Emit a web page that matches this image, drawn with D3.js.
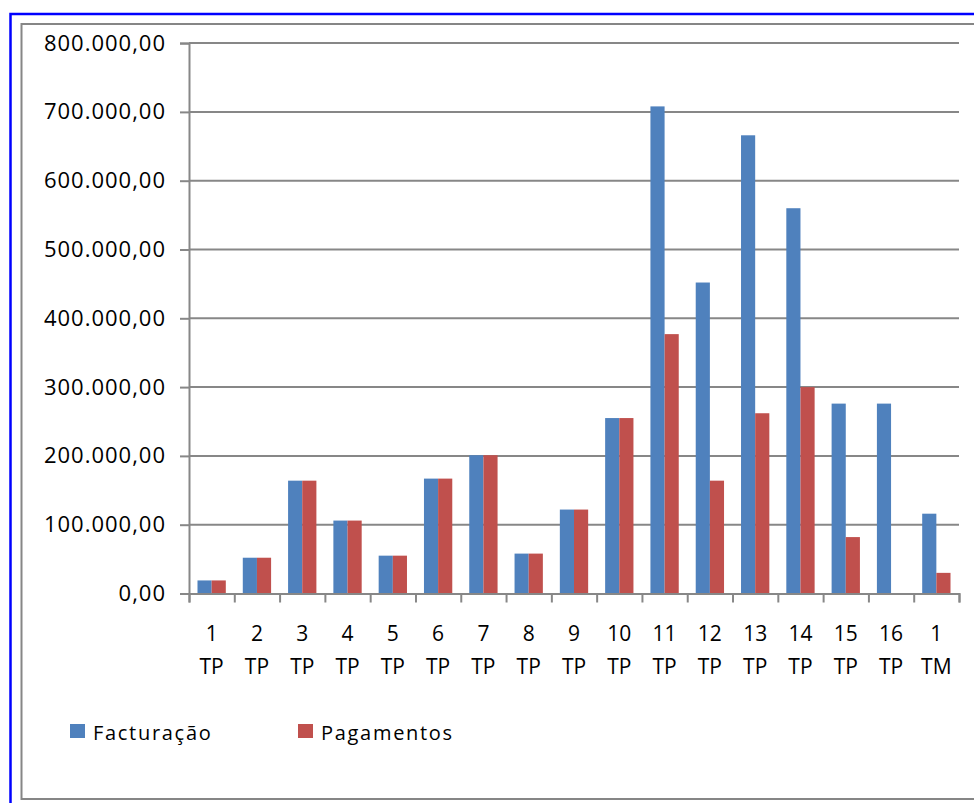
<!DOCTYPE html>
<html>
<head>
<meta charset="utf-8">
<script src="https://cdn.jsdelivr.net/npm/d3@7"></script>
<style>
  html, body { margin: 0; padding: 0; background: #fff; }
  svg { display: block; }
  text { font-family: "Open Sans", sans-serif; fill: #000; }
</style>
</head>
<body>
<svg id="chart" width="974" height="803"></svg>
<script>
// data
const catNums = ["1", "2", "3", "4", "5", "6", "7", "8", "9", "10", "11", "12", "13", "14", "15", "16", "1"];
const catTypes = ["TP", "TP", "TP", "TP", "TP", "TP", "TP", "TP", "TP", "TP", "TP", "TP", "TP", "TP", "TP", "TP", "TM"];
const facturacao = [19000, 52000, 164000, 106000, 55000, 167000, 201000, 58000, 122000, 255000, 708000, 452000, 666000, 560000, 276000, 276000, 116000];
const pagamentos = [19000, 52000, 164000, 106000, 55000, 167000, 201000, 58000, 122000, 255000, 377000, 164000, 262000, 300000, 82000, 0, 30000];
const seriesNames = ["Facturação", "Pagamentos"];
const seriesColors = ["#4F81BD", "#C0504D"];
const yTicks = [0, 100000, 200000, 300000, 400000, 500000, 600000, 700000, 800000];

const svg = d3.select("#chart");

// outer frames
svg.append("rect")
    .attr("x", 10.5).attr("y", 14).attr("width", 1000).attr("height", 820)
    .attr("fill", "none").attr("stroke", "#0000ff").attr("stroke-width", 2.5);
svg.append("rect")
    .attr("x", 21.5).attr("y", 24).attr("width", 990).attr("height", 775)
    .attr("fill", "none").attr("stroke", "#868686").attr("stroke-width", 2);

const plot = { left: 189, right: 959, top: 43.1, bottom: 593.5 };
const cats = catNums.map((n, i) => i);

const x = d3.scaleBand().domain(cats).range([plot.left, plot.right]).padding(0);
const x1 = d3.scaleBand().domain([0, 1]).range([0, x.bandwidth()])
    .paddingInner(0).paddingOuter(0.6);
const xIdx = d3.scaleLinear().domain([0, cats.length]).range([plot.left, plot.right]);
const y = d3.scaleLinear().domain([0, 800000]).range([plot.bottom, plot.top]);

const locale = d3.formatLocale({ decimal: ",", thousands: ".", grouping: [3], currency: ["", ""] });
const fmt = locale.format(",.2f");

// gridlines
svg.append("g").selectAll("line")
    .data(yTicks.filter(d => d > 0))
    .join("line")
    .attr("x1", plot.left).attr("x2", plot.right)
    .attr("y1", d => y(d)).attr("y2", d => y(d))
    .attr("stroke", "#878787").attr("stroke-width", 2);

// bars
const rows = cats.map(i => [facturacao[i], pagamentos[i]]);
const groups = svg.append("g").selectAll("g")
    .data(rows)
    .join("g")
    .attr("transform", (d, i) => `translate(${x(i)},0)`);
groups.selectAll("rect")
    .data(d => d.map((v, s) => ({ v, s })))
    .join("rect")
    .attr("x", d => x1(d.s))
    .attr("width", x1.bandwidth())
    .attr("y", d => y(d.v))
    .attr("height", d => y(0) - y(d.v))
    .attr("fill", d => seriesColors[d.s]);

// y axis
const yAxisG = svg.append("g")
    .attr("transform", `translate(${plot.left},0)`)
    .call(d3.axisLeft(y).tickValues(yTicks).tickSize(9).tickPadding(14).tickFormat(fmt));
yAxisG.select(".domain").attr("stroke", "#878787").attr("stroke-width", 2);
yAxisG.selectAll(".tick line").attr("stroke", "#878787").attr("stroke-width", 2);
yAxisG.selectAll(".tick text")
    .style("font-family", "Open Sans").style("font-size", "22px")
    .style("letter-spacing", "1px").attr("fill", "#000");

// x axis
const xAxisG = svg.append("g")
    .attr("transform", `translate(0,${plot.bottom})`)
    .call(d3.axisBottom(xIdx).tickValues(d3.range(cats.length + 1)).tickSize(9).tickFormat(""));
xAxisG.select(".domain").attr("stroke", "#878787").attr("stroke-width", 2);
xAxisG.selectAll(".tick line").attr("stroke", "#878787").attr("stroke-width", 2);

const xl = svg.append("g").selectAll("text")
    .data(cats)
    .join("text")
    .attr("x", i => x(i) + x.bandwidth() / 2)
    .attr("text-anchor", "middle")
    .style("font-size", "21px");
xl.append("tspan").attr("x", i => x(i) + x.bandwidth() / 2).attr("y", 641).text(i => catNums[i]);
xl.append("tspan").attr("x", i => x(i) + x.bandwidth() / 2).attr("y", 674).text(i => catTypes[i]);

// legend
const legendX = [70, 298];
const legend = svg.append("g").selectAll("g")
    .data(seriesNames)
    .join("g")
    .attr("transform", (d, i) => `translate(${legendX[i]},724)`);
legend.append("rect")
    .attr("width", 15).attr("height", 14)
    .attr("fill", (d, i) => seriesColors[i]);
legend.append("text")
    .attr("x", 23).attr("y", 16)
    .style("font-size", "20px").style("letter-spacing", "1.7px")
    .text(d => d);
</script>
</body>
</html>
